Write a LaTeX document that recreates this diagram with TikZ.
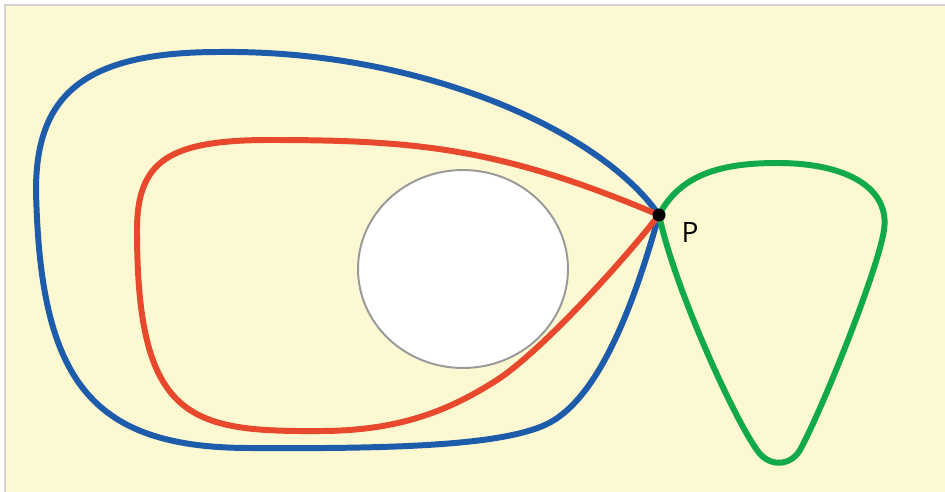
\documentclass[tikz,border=0pt]{standalone}
\usepackage{fontspec}
\setmainfont{Open Sans}
\usepackage{tikz}
\usetikzlibrary{positioning,shapes.geometric}
\usepackage{xcolor}
\definecolor{paper}{HTML}{FCF8D2}
\definecolor{frame}{HTML}{D2D2D2}
\definecolor{loopblue}{HTML}{1D5CAB}
\definecolor{loopred}{HTML}{E8482C}
\definecolor{loopgreen}{HTML}{12A948}
\definecolor{holegray}{HTML}{999999}

\begin{document}
\begin{tikzpicture}[
  x=0.02cm, y=-0.02cm,
  curve/.style={line width=3.4pt, line join=round, line cap=round},
  hole/.style={ellipse, draw=holegray, line width=1.1pt, fill=white,
               minimum width=4.2cm, minimum height=3.96cm, inner sep=0pt},
  dot/.style={circle, fill=black, minimum size=0.26cm, inner sep=0pt},
  lbl/.style={font=\fontsize{16}{19}\selectfont, inner sep=0pt}
]
  \useasboundingbox (0,0) rectangle (945,492);

  %--- Background ---
  \fill[white] (0,0) rectangle (945,492);
  \fill[paper] (5,5) rectangle (945,492);
  \draw[frame, line width=1.2pt] (5,492) -- (5,5) -- (945,5);

  %--- Obstacle ---
  \node[hole] (disk) at (463,269) {};

  %--- Base point ---
  \coordinate (P) at (659,215);

  %--- Loops ---
  % Blue: goes round the disk
  \draw[curve, loopblue] (P)
    .. controls (600,130) and (420,50) .. (220,52)
    .. controls (90,52) and (36,90) .. (36,190)
    .. controls (40,380) and (90,448) .. (250,448)
    .. controls (400,449) and (500,445) .. (545,425)
    .. controls (600,400) and (635,300) .. (P);
  % Red: also round the disk, tighter
  \draw[curve, loopred] (P)
    .. controls (503,149) and (420,140) .. (270,140)
    .. controls (170,140) and (137,160) .. (137,230)
    .. controls (137,420) and (190,432) .. (320,431)
    .. controls (400,431) and (450,410) .. (497,380)
    .. controls (540,352) and (620,265) .. (P);
  % Green: loop on the right
  \draw[curve, loopgreen] (P)
    .. controls (680,175) and (720,163) .. (777,163)
    .. controls (850,163) and (890,190) .. (884,230)
    .. controls (878,270) and (822,410) .. (800,450)
    .. controls (790,467) and (768,467) .. (757,450)
    .. controls (735,420) and (675,290) .. (P);

  \node[dot] (pdot) at (P) {};
  \node[lbl, below right=0.05cm and 0.35cm of pdot] (plabel) {P};
\end{tikzpicture}
\end{document}
